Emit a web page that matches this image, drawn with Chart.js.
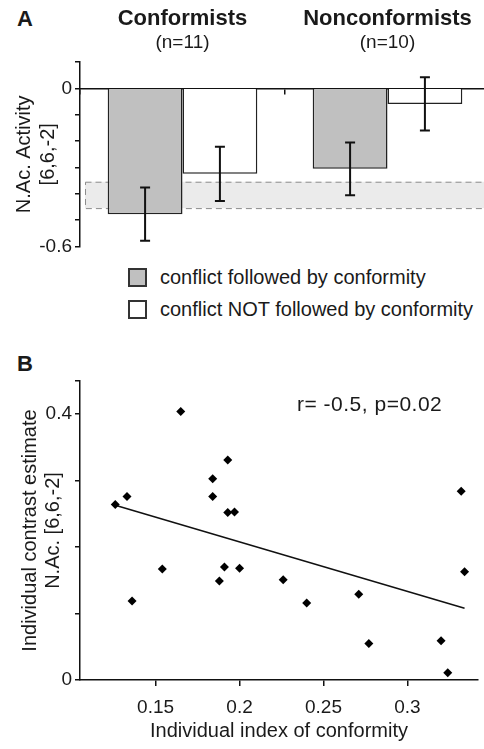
<!DOCTYPE html>
<html>
<head>
<meta charset="utf-8">
<script src="https://cdn.jsdelivr.net/npm/chart.js@4.4.1/dist/chart.umd.min.js"></script>
<style>
  html, body { margin: 0; padding: 0; width: 484px; height: 749px; overflow: hidden; background: #fff; }
  body { position: relative; font-family: 'Liberation Sans', Arial, sans-serif; color: #1a1a1a; }
  .tag { position: absolute; left: 17px; font-weight: bold; font-size: 22px; line-height: 24px; }
  #wrapA { position: absolute; left: 0; top: 0; width: 490px; height: 261px; }
  #wrapB { position: absolute; left: 0; top: 340px; width: 484px; height: 409px; }
  #legendA { position: absolute; left: 128px; top: 268px; }
  #legendA .row { display: flex; align-items: center; height: 19px; margin-bottom: 12.5px; font-size: 20px; white-space: nowrap; }
  #legendA .box { width: 15px; height: 15px; border: 2px solid #333; margin-right: 13px; }
  #stat { position: absolute; left: 297px; top: 392px; font-size: 21px; line-height: 24px; letter-spacing: 0.5px; white-space: nowrap; }
</style>
</head>
<body>
<div class="tag" style="top:7px">A</div>
<div class="tag" style="top:352px">B</div>
<div id="wrapA"><canvas id="chartA"></canvas></div>
<div id="legendA"></div>
<div id="wrapB"><canvas id="chartB"></canvas></div>
<div id="stat"></div>
<script>
const $ = (s) => document.querySelector(s);
Chart.defaults.font.family = "'Liberation Sans', Arial, sans-serif";
Chart.defaults.color = '#1a1a1a';

// ── Panel A data ──────────────────────────────────────────────────────────────
const GROUPS = ['Conformists', 'Nonconformists'];
const GROUP_N = ['(n=11)', '(n=10)'];
const SERIES = ['conflict followed by conformity', 'conflict NOT followed by conformity'];
const FOLLOWED = [-0.477, -0.305];
const FOLLOWED_ERR = [0.101, 0.100];
const NOT_FOLLOWED = [-0.324, -0.059];
const NOT_FOLLOWED_ERR = [0.103, 0.101];
const BAND = [-0.454, -0.354];
const A_LABELED = [0, -0.6];

// ── Panel B data ──────────────────────────────────────────────────────────────
const CONFORMITY_INDEX = [0.126, 0.133, 0.136, 0.154, 0.165, 0.184, 0.184, 0.188, 0.191, 0.193, 0.193,
  0.197, 0.200, 0.226, 0.240, 0.271, 0.277, 0.320, 0.324, 0.332, 0.334];
const CONTRAST_EST = [0.264, 0.276, 0.119, 0.167, 0.404, 0.303, 0.276, 0.149, 0.170, 0.331, 0.252,
  0.253, 0.168, 0.151, 0.116, 0.129, 0.055, 0.059, 0.011, 0.284, 0.163];
const FIT_X = [0.126, 0.334];
const FIT_Y = [0.263, 0.108];
const B_LABELED = [0, 0.4];
const STAT_TEXT = 'r= -0.5, p=0.02';

const INK = '#1a1a1a';
const onlyLabels = (list, digits) => (v) => {
  const hit = list.find((t) => Math.abs(t - v) < 1e-6);
  if (hit === undefined) return '';
  return hit === 0 ? '0' : hit.toFixed(digits);
};

// Dashed grey band behind the bars.
const bandPlugin = {
  id: 'band',
  beforeDatasetsDraw(chart) {
    const { ctx, chartArea, scales: { y } } = chart;
    const top = y.getPixelForValue(BAND[1]);
    const bot = y.getPixelForValue(BAND[0]);
    const left = chartArea.left + 5;
    ctx.save();
    ctx.fillStyle = '#ebebeb';
    ctx.fillRect(left, top, chartArea.right - left, bot - top);
    ctx.setLineDash([6, 4]);
    ctx.strokeStyle = '#8c8c8c';
    ctx.lineWidth = 1;
    ctx.strokeRect(left + 0.5, top + 0.5, chartArea.right - left + 10, bot - top);
    ctx.restore();
  },
};

// ±SEM whiskers from each dataset's `errors` array.
const errorBarPlugin = {
  id: 'errorBars',
  afterDatasetsDraw(chart) {
    const { ctx, scales: { y } } = chart;
    ctx.save();
    ctx.strokeStyle = '#111';
    ctx.lineWidth = 2;
    chart.data.datasets.forEach((ds, i) => {
      chart.getDatasetMeta(i).data.forEach((bar, j) => {
        const hi = y.getPixelForValue(ds.data[j] + ds.errors[j]);
        const lo = y.getPixelForValue(ds.data[j] - ds.errors[j]);
        ctx.beginPath();
        ctx.moveTo(bar.x, hi); ctx.lineTo(bar.x, lo);
        ctx.moveTo(bar.x - 5, hi); ctx.lineTo(bar.x + 5, hi);
        ctx.moveTo(bar.x - 5, lo); ctx.lineTo(bar.x + 5, lo);
        ctx.stroke();
      });
    });
    ctx.restore();
  },
};

// ── Panel A chart ─────────────────────────────────────────────────────────────
const chartA = new Chart($('#chartA'), {
  type: 'bar',
  data: {
    labels: GROUPS,
    datasets: [
      { label: SERIES[0], data: FOLLOWED, errors: FOLLOWED_ERR, xAxisID: 'x', backgroundColor: '#c0c0c0', borderColor: '#222', borderWidth: 1.5 },
      { label: SERIES[1], data: NOT_FOLLOWED, errors: NOT_FOLLOWED_ERR, xAxisID: 'x', backgroundColor: '#ffffff', borderColor: '#222', borderWidth: 1.5 },
    ],
  },
  options: {
    responsive: true, maintainAspectRatio: false, animation: false,
    layout: { padding: 0 },
    datasets: { bar: { categoryPercentage: 0.73, barPercentage: 1 } },
    plugins: { legend: { display: false }, tooltip: { enabled: false } },
    scales: {
      x: {
        type: 'category', position: { y: 0 }, offset: true,
        ticks: { display: false },
        grid: { offset: true, drawOnChartArea: false, tickLength: 5, color: '#111', lineWidth: 1.5 },
        border: { color: '#111', width: 1.5 },
      },
      xN: {
        type: 'category', labels: GROUP_N, position: 'top', offset: true, weight: 0,
        grid: { display: false, drawTicks: false }, border: { display: false },
        ticks: { font: { size: 19, lineHeight: 1.2 }, color: INK, padding: 7.5 },
        afterFit: (s) => { s.height = 32; },
      },
      xName: {
        type: 'category', labels: GROUPS, position: 'top', offset: true, weight: 1,
        grid: { display: false, drawTicks: false }, border: { display: false },
        ticks: { font: { size: 22, weight: 'bold', lineHeight: 1 }, color: INK, padding: 0 },
        afterFit: (s) => { s.height = 30; },
      },
      y: {
        min: -0.6, max: 0.1,
        ticks: { stepSize: 0.1, font: { size: 19 }, color: INK, padding: 3, callback: onlyLabels(A_LABELED, 1) },
        grid: { drawOnChartArea: false, tickLength: 5, color: '#111', lineWidth: 1.5 },
        border: { color: '#111', width: 1.5 },
        title: { display: true, text: ['N.Ac. Activity', '[6,6,-2]'], font: { size: 20, lineHeight: 1.2 }, color: INK, padding: { top: 12.5, bottom: 0 } },
        afterFit: (s) => { s.width = 80; },
      },
    },
  },
  plugins: [bandPlugin, errorBarPlugin],
});

$('#legendA').innerHTML = chartA.data.datasets.map((ds) =>
  `<div class="row"><span class="box" style="background:${ds.backgroundColor}"></span>${ds.label}</div>`).join('');

// ── Panel B chart ─────────────────────────────────────────────────────────────
new Chart($('#chartB'), {
  type: 'scatter',
  data: {
    datasets: [
      { type: 'line', data: FIT_X.map((x, i) => ({ x, y: FIT_Y[i] })), borderColor: '#111', borderWidth: 1.5, pointRadius: 0, order: 2 },
      { data: CONFORMITY_INDEX.map((x, i) => ({ x, y: CONTRAST_EST[i] })), pointStyle: 'rectRot', pointRadius: 4.5, backgroundColor: '#000', borderWidth: 0, order: 1 },
    ],
  },
  options: {
    responsive: true, maintainAspectRatio: false, animation: false,
    layout: { padding: { top: 41, right: 6, left: 0, bottom: 0 } },
    plugins: { legend: { display: false }, tooltip: { enabled: false } },
    scales: {
      x: {
        type: 'linear', min: 0.105, max: 0.342,
        ticks: { stepSize: 0.05, includeBounds: false, font: { size: 19 }, color: INK, padding: 10.5, callback: (v) => String(parseFloat(v.toFixed(2))) },
        grid: { drawOnChartArea: false, tickLength: 6, color: '#111', lineWidth: 1.5 },
        border: { color: '#111', width: 1.5 },
        title: { display: true, text: 'Individual index of conformity', font: { size: 20, lineHeight: 1.2 }, color: INK, padding: { top: 0, bottom: 6 } },
        afterFit: (s) => { s.height = 69; },
      },
      y: {
        type: 'linear', min: 0, max: 0.45,
        ticks: { stepSize: 0.1, includeBounds: false, font: { size: 19 }, color: INK, padding: 3, callback: onlyLabels(B_LABELED, 1) },
        afterBuildTicks: (s) => { s.ticks.push({ value: s.max }); },
        grid: { drawOnChartArea: false, tickLength: 5, color: '#111', lineWidth: 1.5 },
        border: { color: '#111', width: 1.5 },
        title: { display: true, text: ['Individual contrast estimate', 'N.Ac. [6,6,-2]'], font: { size: 20, lineHeight: 1.15 }, color: INK, padding: { top: 18.5, bottom: 0 } },
        afterFit: (s) => { s.width = 80; },
      },
    },
  },
});

$('#stat').textContent = STAT_TEXT;
</script>
</body>
</html>
